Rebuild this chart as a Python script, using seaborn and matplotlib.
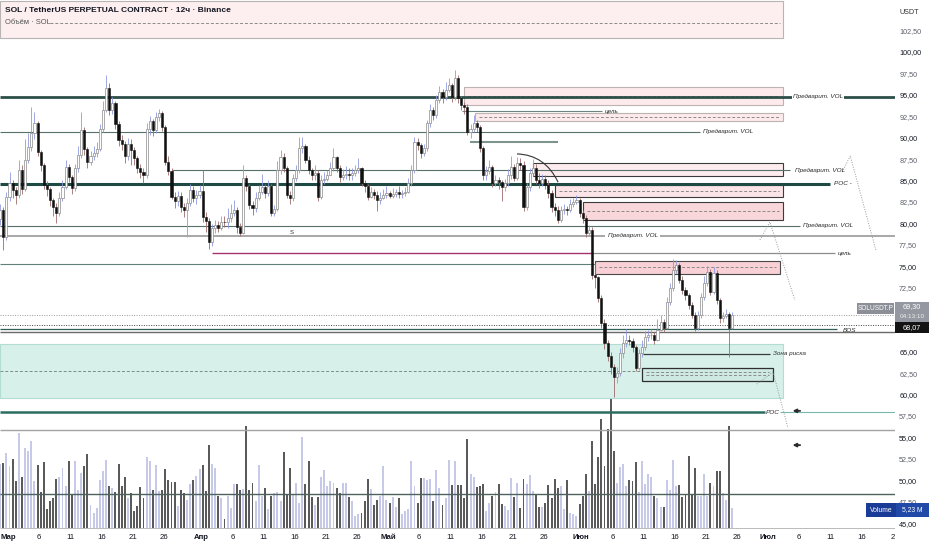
import numpy as np
import pandas as pd
import matplotlib
matplotlib.use("Agg")
import matplotlib.pyplot as plt
from matplotlib.patches import Rectangle, PathPatch
from matplotlib.path import Path
import seaborn as sns

# ─── style ───
sns.set_theme(style="white")
plt.rcParams["font.family"] = ["Liberation Sans Narrow", "Liberation Sans", "DejaVu Sans"]

# ─── 12h candles SOLUSDT.P ───
FIRST_BAR = "2026-02-27 12:00"
OPEN_FIRST = 80.5
CLOSE = [
    81.6, 78.4, 83.1, 84.7, 83.9, 83.3, 86.2, 84.0, 87.4, 88.9,
    90.5, 91.7, 88.3, 86.8, 84.5, 84.0, 82.7, 81.9, 81.2, 83.0,
    84.2, 86.6, 85.4, 84.1, 86.4, 88.0, 90.9, 88.7, 87.2, 87.8,
    88.2, 88.7, 91.0, 93.2, 95.8, 93.2, 94.0, 91.6, 89.7, 89.2,
    87.8, 89.3, 88.5, 87.6, 86.5, 86.0, 85.6, 91.0, 91.9, 90.9,
    92.4, 92.9, 91.2, 87.2, 86.1, 83.1, 82.6, 83.2, 81.9, 81.5,
    82.4, 83.9, 83.0, 83.3, 83.8, 80.7, 80.3, 77.8, 79.4, 79.8,
    79.5, 80.2, 80.1, 80.6, 81.2, 81.6, 79.6, 78.9, 85.3, 84.3,
    82.1, 81.8, 83.0, 83.6, 84.2, 83.5, 84.3, 81.2, 81.7, 86.2,
    87.7, 86.4, 83.3, 82.9, 85.3, 86.2, 88.8, 89.0, 87.4, 86.2,
    85.6, 85.9, 83.1, 85.0, 85.2, 85.6, 86.4, 87.7, 86.5, 85.4,
    85.6, 85.8, 85.6, 85.9, 86.2, 86.4, 84.7, 84.3, 83.1, 83.7,
    83.3, 82.7, 83.0, 83.3, 83.5, 83.2, 83.4, 83.6, 83.4, 83.5,
    83.7, 84.7, 86.2, 89.5, 89.1, 88.2, 88.8, 91.7, 93.2, 92.6,
    94.4, 95.3, 94.7, 95.6, 96.1, 94.7, 97.0, 94.6, 93.8, 93.6,
    90.7, 91.0, 91.7, 91.2, 88.8, 85.6, 86.1, 86.6, 84.7, 85.0,
    84.8, 84.2, 84.7, 85.6, 86.6, 85.3, 87.0, 86.8, 81.9, 84.2,
    85.9, 86.4, 85.1, 84.7, 85.2, 84.5, 83.5, 81.9, 81.6, 80.4,
    81.5, 81.7, 81.5, 82.2, 82.5, 82.7, 81.2, 80.6, 78.9, 79.2,
    74.0, 73.7, 71.3, 68.4, 66.0, 64.5, 63.2, 62.0, 62.5, 64.8,
    66.0, 66.4, 66.2, 65.5, 63.1, 64.8, 65.6, 66.7, 66.9, 67.0,
    66.4, 67.5, 68.5, 67.8, 70.8, 72.4, 74.5, 75.1, 73.4, 72.2,
    71.6, 70.5, 69.3, 67.8, 69.3, 71.4, 73.0, 74.3, 72.0, 74.2,
    71.0, 68.9, 69.2, 69.4, 67.8, 69.3,
]
HIGH = [
    82.3, 81.9, 83.6, 86.0, 85.1, 84.2, 87.4, 86.8, 89.8, 90.5,
    93.6, 93.0, 92.0, 88.6, 87.0, 84.9, 84.2, 83.0, 82.4, 83.6,
    85.0, 87.4, 86.9, 85.6, 86.9, 89.0, 93.0, 91.2, 88.9, 88.4,
    89.0, 89.5, 91.6, 94.3, 97.3, 96.4, 94.8, 94.3, 92.0, 90.3,
    89.6, 90.0, 89.8, 88.9, 87.8, 86.9, 86.4, 91.7, 92.5, 92.2,
    93.0, 93.3, 93.1, 91.5, 87.8, 86.4, 83.6, 83.8, 83.6, 82.4,
    82.9, 84.6, 84.4, 83.9, 84.5, 86.2, 81.3, 80.6, 79.9, 80.4,
    80.3, 80.8, 80.9, 81.8, 82.3, 82.7, 81.9, 80.0, 86.8, 85.6,
    84.6, 82.6, 83.6, 84.5, 85.7, 84.6, 85.1, 84.6, 82.1, 87.3,
    88.5, 88.2, 86.7, 83.8, 85.8, 86.8, 90.1, 90.1, 89.3, 87.8,
    86.5, 86.8, 86.2, 85.6, 86.0, 86.2, 87.1, 88.8, 87.9, 86.8,
    86.3, 86.7, 86.4, 86.5, 86.8, 87.6, 86.6, 85.0, 84.6, 84.2,
    84.0, 83.8, 83.6, 84.0, 84.3, 83.8, 84.1, 84.0, 84.3, 83.9,
    84.2, 85.3, 86.8, 90.1, 90.0, 89.4, 89.3, 92.1, 93.9, 93.6,
    95.0, 96.0, 95.7, 96.5, 97.0, 96.4, 97.9, 97.3, 94.9, 94.2,
    93.9, 91.6, 92.7, 92.1, 91.5, 89.0, 86.7, 87.4, 86.8, 85.6,
    85.4, 85.0, 85.2, 86.3, 87.9, 86.9, 87.7, 87.6, 87.3, 84.7,
    86.4, 87.5, 86.9, 85.9, 85.7, 85.6, 85.0, 83.9, 82.4, 82.0,
    82.0, 82.3, 82.0, 82.8, 83.0, 83.3, 82.9, 81.6, 81.0, 79.8,
    79.6, 75.4, 73.9, 71.6, 68.8, 66.4, 65.0, 63.6, 63.2, 65.4,
    66.9, 67.6, 66.9, 66.6, 65.8, 65.3, 66.4, 67.4, 67.5, 67.6,
    67.3, 68.8, 69.3, 68.8, 71.4, 73.0, 75.8, 75.7, 75.4, 73.9,
    72.6, 71.9, 70.8, 69.7, 69.8, 71.9, 73.8, 75.0, 74.7, 74.9,
    74.6, 71.3, 69.7, 70.0, 69.7, 69.6,
]
LOW = [
    79.8, 76.9, 78.0, 82.6, 83.0, 82.2, 83.0, 83.4, 83.8, 87.0,
    88.4, 89.8, 87.8, 86.1, 84.0, 83.2, 82.0, 80.8, 80.0, 80.9,
    82.6, 84.0, 84.8, 83.4, 83.8, 86.0, 87.6, 88.0, 86.5, 86.8,
    87.4, 87.7, 88.4, 90.6, 93.0, 92.6, 92.8, 91.0, 89.0, 88.5,
    87.0, 87.4, 86.8, 86.8, 85.9, 85.3, 84.7, 85.3, 90.3, 90.2,
    90.5, 91.9, 90.8, 86.8, 85.6, 82.8, 81.8, 82.0, 81.3, 80.7,
    78.4, 82.0, 82.5, 82.2, 83.0, 80.2, 79.0, 77.0, 77.3, 78.9,
    79.0, 79.2, 79.6, 79.5, 80.2, 80.9, 78.9, 78.5, 78.7, 83.8,
    81.7, 81.0, 81.3, 82.7, 83.4, 83.0, 83.2, 80.8, 80.9, 81.4,
    85.8, 86.0, 82.9, 82.2, 82.6, 84.9, 85.9, 88.2, 87.0, 85.7,
    85.1, 85.0, 82.6, 82.8, 84.6, 84.9, 85.6, 86.1, 86.0, 84.8,
    85.0, 85.2, 85.1, 85.1, 85.5, 85.9, 84.3, 83.6, 82.7, 82.9,
    82.8, 81.4, 82.3, 82.8, 83.0, 82.9, 83.0, 83.1, 83.0, 83.0,
    83.2, 83.5, 84.4, 85.9, 88.6, 87.6, 87.9, 88.4, 91.2, 92.1,
    92.3, 94.0, 94.1, 94.4, 95.3, 94.2, 94.4, 94.0, 93.2, 92.8,
    90.3, 89.9, 90.6, 90.6, 88.3, 85.0, 85.0, 85.7, 84.2, 84.3,
    84.0, 82.6, 83.8, 84.4, 85.2, 84.9, 85.0, 86.2, 81.4, 81.6,
    83.8, 85.5, 84.6, 84.1, 84.3, 84.0, 83.0, 81.3, 80.8, 80.0,
    80.1, 81.1, 81.0, 81.3, 81.9, 82.2, 80.7, 80.0, 78.4, 78.5,
    73.5, 72.4, 70.8, 67.8, 65.3, 63.9, 62.4, 59.7, 61.3, 62.2,
    64.3, 65.6, 65.8, 65.0, 62.7, 62.9, 64.4, 65.2, 66.3, 66.5,
    65.9, 66.2, 67.4, 67.3, 67.6, 70.5, 72.1, 74.2, 73.0, 71.8,
    71.1, 70.0, 68.9, 67.4, 67.5, 69.0, 71.1, 72.7, 71.6, 71.8,
    70.6, 68.4, 68.5, 68.9, 64.4, 67.6,
]
# volume, millions SOL
VOLUME_M = [
    16.8, 17.0, 19.6, 16.1, 18.1, 12.4, 24.9, 13.3, 20.9, 20.2,
    22.7, 12.4, 16.4, 9.3, 17.3, 5.1, 7.0, 7.8, 12.9, 13.3,
    15.7, 10.9, 17.4, 9.0, 17.4, 9.9, 14.4, 16.3, 19.4, 6.1,
    3.9, 5.2, 12.5, 14.8, 17.7, 11.1, 10.5, 9.4, 16.7, 10.9,
    13.3, 7.8, 9.2, 4.4, 5.7, 10.7, 7.8, 18.6, 17.4, 10.0,
    16.4, 9.6, 10.0, 15.4, 12.6, 12.0, 12.0, 5.7, 10.0, 9.2,
    7.4, 11.5, 12.6, 13.5, 15.4, 16.6, 9.6, 21.8, 16.8, 15.7,
    8.3, 7.8, 2.4, 8.5, 5.2, 11.5, 11.5, 9.9, 10.3, 26.6,
    9.9, 11.9, 7.0, 16.6, 8.3, 10.5, 5.0, 8.3, 9.2, 9.4,
    7.0, 19.9, 9.0, 15.7, 9.0, 11.8, 6.5, 23.7, 11.6, 17.4,
    8.1, 6.1, 8.1, 13.3, 15.3, 10.9, 12.2, 11.9, 10.5, 9.2,
    11.8, 11.8, 8.1, 7.0, 3.2, 3.7, 3.9, 7.0, 12.8, 10.3,
    5.9, 7.4, 8.3, 16.1, 7.2, 6.5, 8.0, 5.4, 7.8, 3.7,
    4.4, 5.1, 17.4, 10.9, 6.5, 13.1, 13.1, 12.6, 12.8, 7.0,
    15.3, 10.5, 6.1, 7.8, 17.9, 11.3, 17.4, 11.3, 11.3, 7.8,
    23.3, 14.0, 13.3, 10.7, 11.1, 11.5, 4.4, 6.5, 8.5, 9.4,
    11.5, 6.4, 5.8, 4.8, 13.1, 8.0, 11.8, 5.2, 12.8, 11.5,
    13.8, 9.6, 9.0, 5.4, 5.4, 6.5, 11.2, 7.8, 12.8, 10.5,
    11.1, 5.1, 12.5, 3.9, 3.7, 3.2, 6.3, 8.3, 14.2, 9.6,
    22.7, 11.5, 18.7, 28.5, 16.1, 26.0, 34.3, 20.1, 11.9, 16.0,
    16.8, 11.1, 12.6, 12.4, 17.2, 9.4, 17.6, 11.6, 14.0, 13.3,
    8.3, 7.8, 5.5, 5.5, 12.6, 10.0, 17.7, 10.9, 11.2, 8.1,
    9.0, 18.9, 9.0, 15.7, 8.3, 8.5, 14.0, 8.3, 11.8, 10.9,
    14.8, 14.8, 9.2, 7.4, 26.6, 5.2,
]
LAST_PRICE = 69.30
MARK_PRICE = 68.07
LAST_VOLUME = "5,23 M"

# axis ticks (70,00 and 67,50 sit under the price labels)
PRICE_TICKS = [45.0, 47.5, 50.0, 52.5, 55.0, 57.5, 60.0, 62.5, 65.0, 72.5,
               75.0, 77.5, 80.0, 82.5, 85.0, 87.5, 90.0, 92.5, 95.0, 97.5, 100.0, 102.5]
DATE_TICKS = ["03-01", "03-06", "03-11", "03-16", "03-21", "03-26",
              "04-01", "04-06", "04-11", "04-16", "04-21", "04-26",
              "05-01", "05-06", "05-11", "05-16", "05-21", "05-26",
              "06-01", "06-06", "06-11", "06-16", "06-21", "06-26",
              "07-01", "07-06", "07-11", "07-16", "07-21"]
DATE_LABELS = ["Мар", "6", "11", "16", "21", "26",
               "Апр", "6", "11", "16", "21", "26",
               "Май", "6", "11", "16", "21", "26",
               "Июн", "6", "11", "16", "21", "26",
               "Июл", "6", "11", "16", "2"]
MONTHS = {"Мар", "Апр", "Май", "Июн", "Июл"}

# ─── prepare ───
MAR1 = pd.Timestamp("2026-03-01")
t = pd.date_range(FIRST_BAR, periods=len(CLOSE), freq="12h")
xs = ((t - MAR1) / pd.Timedelta(days=1)).to_numpy() + 0.25
close = np.array(CLOSE)
open_ = np.r_[OPEN_FIRST, close[:-1]]
high = np.maximum(np.array(HIGH), np.maximum(open_, close))
low = np.minimum(np.array(LOW), np.minimum(open_, close))
up = close >= open_

XMIN, XMAX = -1.28, 142.38
YMIN, YMAX = 44.19, 106.07

W, H = 932, 550
fig = plt.figure(figsize=(W / 100, H / 100), dpi=100, facecolor="white")
ax = fig.add_axes([0, 20 / H, 895 / W, 530 / H])
ax_v = ax.twinx()
ax.set_zorder(2)
ax_v.set_zorder(1)
ax.patch.set_visible(False)

# ─── volume pane (seaborn) ───
vol_df = pd.DataFrame({"x": xs, "vol": VOLUME_M, "dir": np.where(up, "up", "down")})
sns.barplot(data=vol_df, x="x", y="vol", hue="dir", native_scale=True, width=0.62,
            palette={"up": "#c6c9e8", "down": "#5a5a5a"}, dodge=False, saturation=1,
            errorbar=None, legend=False, linewidth=0, ax=ax_v)
ax_v.set_ylim(-0.52, 138.1)
ax_v.set_xlabel("")
ax_v.set_ylabel("")
ax_v.yaxis.set_visible(False)

# ─── drawings: boxes ───
def box(x0, x1, top, bot, fc, ec, lw=0.8, mid=None, z=1, alpha=1.0):
    ax.add_patch(Rectangle((x0, bot), x1 - x0, top - bot, facecolor=fc, edgecolor=ec,
                           lw=lw, zorder=z, alpha=alpha))
    if mid is not None:
        for m in np.atleast_1d(mid):
            ax.plot([x0 + 0.6, x1 - 0.6], [m, m], color="#8a8a8a", lw=0.7,
                    ls=(0, (3, 2)), zorder=z + 0.1)

box(XMIN, 124.4, 105.95, 101.63, "#fdeff0", "#b9b4b4", lw=0.8)
ax.plot([6.7, 124.0], [103.39, 103.39], color="#8a8a8a", lw=0.7, ls=(0, (3, 2)), zorder=1.1)
box(73.2, 124.4, 95.91, 93.81, "#fceaec", "#bdb3b3", mid=94.86)
box(75.0, 124.4, 92.88, 91.94, "#fceaec", "#bdb3b3", mid=92.41)
box(84.3, 124.4, 87.04, 85.52, "#fcecee", "#3c3c3c", mid=86.28)
box(87.8, 124.4, 84.47, 83.07, "#fbe4e7", "#3c3c3c", mid=83.77)
box(92.3, 124.4, 82.48, 80.38, "#f9d6da", "#3c3c3c", mid=81.43)
box(94.2, 123.9, 75.60, 74.08, "#f8d0d5", "#4a4a4a", mid=74.84)
box(XMIN, 124.4, 65.90, 59.60, "#d8f0ea", "#b3dcd2", lw=0.8, z=0.5)
ax.plot([XMIN, 101.8], [62.75, 62.75], color="#7a8c88", lw=0.7, ls=(0, (3, 2)), zorder=0.7)
box(101.8, 122.8, 63.10, 61.58, "#cde9e2", "#2e2e2e", lw=0.9, mid=[62.58, 62.28])

# ─── drawings: horizontal levels ───
HLINES = [
    (94.8, XMIN, XMAX, "#2e4f49", 2.0, "-"),
    (90.66, XMIN, 111.1, "#56706b", 0.8, "-"),
    (86.2, 26.3, 125.5, "#56706b", 0.8, "-"),
    (84.6, XMIN, 131.9, "#1f4a43", 2.2, "-"),
    (79.7, XMIN, 127.1, "#56706b", 0.8, "-"),
    (78.55, XMIN, 95.8, "#a0a0a0", 1.3, "-"),
    (78.55, 104.7, XMAX, "#a0a0a0", 1.3, "-"),
    (76.5, 32.7, 93.7, "#a3336e", 1.0, "-"),
    (76.5, 93.7, 132.7, "#8c8c8c", 0.9, "-"),
    (75.2, XMIN, 94.2, "#5f7f79", 0.8, "-"),
    (93.1, 72.9, 95.3, "#6e8480", 0.8, "-"),
    (89.5, 74.2, 88.3, "#7f938e", 1.5, "-"),
    (67.62, XMIN, 133.1, "#2f5f57", 0.9, "-"),
    (67.34, XMIN, XMAX, "#6a6a6a", 1.0, "-"),
    (LAST_PRICE, XMIN, XMAX, "#9a9a9a", 0.7, (0, (1, 1.5))),
    (MARK_PRICE, XMIN, XMAX, "#444444", 0.7, (0, (1, 1.5))),
    (57.96, XMIN, 121.5, "#2b6d60", 1.8, "-"),
    (57.96, 123.9, XMAX, "#79b8aa", 0.8, "-"),
    (55.86, XMIN, XMAX, "#a3a3a3", 1.0, "-"),
    (48.4, XMIN, XMAX, "#4d625d", 1.0, "-"),
    (44.42, XMIN, XMAX, "#b0b0b0", 0.6, "-"),
    (64.74, 101.9, 122.3, "#3a3a3a", 0.9, "-"),
]
for y, x0, x1, c, lw, ls in HLINES:
    ax.plot([x0, x1], [y, y], color=c, lw=lw, ls=ls, zorder=2, solid_capstyle="butt")

# arc over the May top
arc = Path([(81.7, 88.1), (86.2, 88.0), (88.3, 84.8)], [Path.MOVETO, Path.CURVE3, Path.CURVE3])
ax.add_patch(PathPatch(arc, facecolor="none", edgecolor="#333333", lw=0.8, zorder=4))

# dotted projections
PROJECTIONS = [
    ([133.9, 135.2, 139.3], [85.99, 87.86, 76.88]),
    ([120.7, 122.3, 126.3], [78.05, 80.15, 71.04]),
    ([120.2, 122.8, 125.2], [61.23, 62.63, 56.10]),
]
for px, py in PROJECTIONS:
    ax.plot(px, py, color="#9a9a9a", lw=0.7, ls=(0, (1, 1.5)), zorder=2)

for yy in (58.1, 54.1):
    ax.annotate("", xy=(125.5, yy), xytext=(127.6, yy),
                arrowprops=dict(arrowstyle="-|>", color="#2a2a2a", lw=1.3, mutation_scale=5),
                zorder=5)

# ─── candles ───
wick_c = np.where(up, "#8f9ae0", "#9c6b6b")
ax.vlines(xs, low, high, colors=wick_c, lw=0.6, zorder=3)
body_lo = np.minimum(open_, close)
body_h = np.maximum(np.abs(close - open_), 0.08)
ax.bar(xs[up], body_h[up], bottom=body_lo[up], width=0.34, color="white",
       edgecolor="#8a8a8a", lw=0.5, zorder=3.5)
ax.bar(xs[~up], body_h[~up], bottom=body_lo[~up], width=0.34, color="#111111",
       edgecolor="#111111", lw=0.4, zorder=3.5)

# ─── level labels ───
lab = dict(fontsize=4.6, style="italic", color="#2a2a2a", va="center", ha="left", zorder=6)
bg = dict(facecolor="white", edgecolor="none", pad=0.4)
ax.text(126.0, 94.8, "Предварит. VOL", bbox=bg, **lab)
ax.text(111.6, 90.66, "Предварит. VOL", **lab)
ax.text(126.3, 86.2, "Предварит. VOL", **lab)
ax.text(132.6, 84.6, "POC -", **lab)
ax.text(127.6, 79.7, "Предварит. VOL", **lab)
ax.text(96.3, 78.55, "Предварит. VOL", **lab)
ax.text(95.8, 93.1, "цель", **lab)
ax.text(133.2, 76.5, "цель", **lab)
ax.text(134.0, 67.45, "BOS", **lab)
ax.text(122.8, 64.74, "Зона риска", **lab)
ax.text(121.7, 57.96, "POC", **lab)
ax.text(45.6, 78.98, "S", fontsize=4.3, color="#333333", va="center", ha="center", zorder=6)

# ─── axes cosmetics ───
ax.set_xlim(XMIN, XMAX)
ax.set_ylim(YMIN, YMAX)
ax_v.set_xlim(XMIN, XMAX)
for a in (ax, ax_v):
    for s in a.spines.values():
        s.set_visible(False)
    a.grid(False)

tick_days = [(pd.Timestamp("2026-" + d) - MAR1) / pd.Timedelta(days=1) for d in DATE_TICKS]
ax.set_xticks(tick_days)
ax.set_xticklabels(DATE_LABELS)
ax.tick_params(axis="x", length=0, pad=3, labelsize=5.6, labelcolor="#131722")
for tl in ax.get_xticklabels():
    if tl.get_text() in MONTHS:
        tl.set_fontweight("bold")

ax.yaxis.tick_right()
ax.set_yticks(PRICE_TICKS)
ax.set_yticklabels([f"{v:.2f}".replace(".", ",") for v in PRICE_TICKS])
ax.tick_params(axis="y", length=0, pad=3, labelsize=5.2)
for v, tl in zip(PRICE_TICKS, ax.get_yticklabels()):
    tl.set_color("#131722" if v % 5 == 0 else "#5d606b")

# ─── legend and price-scale labels (figure pixels) ───
def fx(px):
    return px / W

def fy(py):
    return 1 - py / H

def fig_box(x0, y0, x1, y1, color):
    fig.add_artist(Rectangle((fx(x0), fy(y1)), (x1 - x0) / W, (y1 - y0) / H,
                             transform=fig.transFigure, facecolor=color,
                             edgecolor="none", zorder=10))

fig.text(fx(5), fy(10), "SOL / TetherUS PERPETUAL CONTRACT · 12ч · Binance",
         fontsize=6.0, fontweight="bold", color="#131722", va="center", zorder=11)
fig.text(fx(5), fy(23), "Объём · SOL", fontsize=5.4, color="#555555", va="center", zorder=11)
fig.text(fx(900), fy(12), "USDT", fontsize=5.2, color="#333333", va="center", zorder=11)

fig_box(857, 303, 894, 314, "#8c8f98")
fig.text(fx(875.5), fy(308.5), "SOLUSDT.P", fontsize=4.7, color="white",
         ha="center", va="center", zorder=11)
fig_box(895, 302, 929, 322, "#9598a0")
fig.text(fx(912), fy(307), f"{LAST_PRICE:.2f}".replace(".", ","), fontsize=5.2,
         color="white", ha="center", va="center", zorder=11)
fig.text(fx(912), fy(317), "04:13:10", fontsize=4.6, color="#eeeeee",
         ha="center", va="center", zorder=11)
fig_box(895, 322, 929, 333, "#131313")
fig.text(fx(912), fy(327.5), f"{MARK_PRICE:.2f}".replace(".", ","), fontsize=5.2,
         color="white", ha="center", va="center", zorder=11)
fig_box(866, 503, 896, 517, "#1b3c96")
fig.text(fx(881), fy(510), "Volume", fontsize=4.9, color="white",
         ha="center", va="center", zorder=11)
fig_box(896, 503, 929, 517, "#2149a8")
fig.text(fx(912.5), fy(510), LAST_VOLUME, fontsize=4.9, color="white",
         ha="center", va="center", zorder=11)

fig.savefig("out.png", dpi=100, facecolor="white")
